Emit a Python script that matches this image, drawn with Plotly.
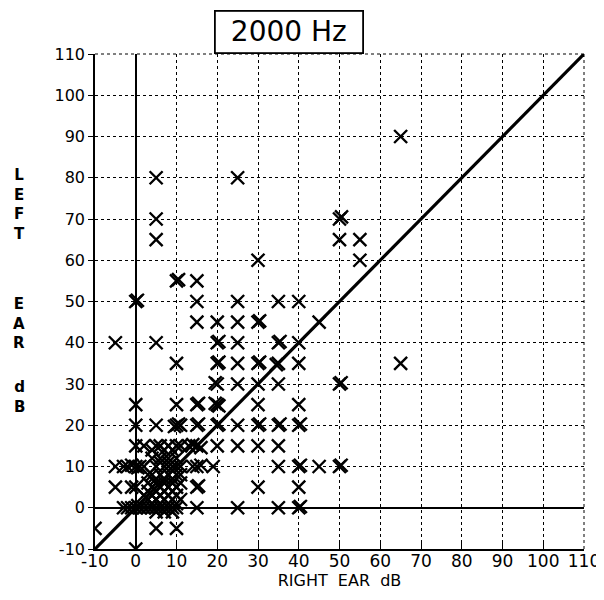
import plotly.graph_objects as go

# Tick values / labels
tick_vals = [-10, 0, 10, 20, 30, 40, 50, 60, 70, 80, 90, 100, 110]
tick_text = [str(v) for v in tick_vals]

# Data: right ear dB (x) vs left ear dB (y)
right_ear = [
    65, 25, 5, 5, 5, 50, 50.5, 50, 55, 55, 30,
    10, 10.5, 15, 0, 0.4, 15, 25, 35, 40,
    15, 20, 25, 30, 30.4, 45,
    -5, 5, 20, 20.4, 25, 35, 35.4, 40,
    10, 20, 20.4, 25, 30, 30.4, 35, 34.5, 40, 65,
    20, 19.5, 25, 30, 35, 50, 50.4,
    0, 10, 15, 15.4, 20, 19.5, 20.4, 30, 40,
    0, 5, 10, 10.5, 9.5, 11, 15, 15.4, 20, 20.4, 25, 30, 30.4, 35, 35.4, 40, 40.4,
    0, 2, 4, 5, 6, 7, 8, 9, 10, 11, 13, 14, 15, 16, 20, 25, 30, 35,
    4, 6, 8, 10,
    -5, -3, -2, -1, 0, 0.5, 1, 2, 5, 7, 8, 9, 10, 11, 14, 15, 16, 19, 35, 40, 40.4, 45, 50, 50.4,
    -5, -1, 0, 15, 15.4, 30, 40,
    3, 4, 5, 6, 7, 8, 9, 10, 11,
    3, 4, 5, 6, 7, 8, 9, 10, 11,
    2, 3, 4, 5, 6, 7, 8, 9, 10,
    3, 4, 5, 6, 7, 8, 9, 10, 11,
    -3, -2, -1, 0, 0.5, 1, 2, 3, 4, 5, 6, 7, 8, 9, 10,
    5, 7, 9, 6, 8,
    15, 25, 35, 40, 40.4,
    -10, 5, 10, 0,
]
left_ear = [
    90, 80, 80, 70, 65, 70, 70.5, 65, 65, 60, 60,
    55, 55.3, 55, 50, 50.3, 50, 50, 50, 50,
    45, 45, 45, 45, 45.3, 45,
    40, 40, 40, 40.3, 40, 40, 40.3, 40,
    35, 35, 35.3, 35, 35, 35.3, 35, 34.7, 35, 35,
    30, 30.3, 30, 30, 30, 30, 30.3,
    25, 25, 25, 25.3, 25, 25.3, 24.7, 25, 25,
    20, 20, 20, 20.3, 19.7, 20, 20, 20.3, 20, 20.3, 20, 20, 20.3, 20, 20.3, 20, 20.3,
    15, 15, 14, 15, 15, 14, 15, 14, 15, 15, 15, 15.3, 15, 14.6, 15, 15, 15, 15,
    12, 12, 12, 12,
    10, 10, 10, 10.3, 10, 9.7, 10, 10, 10, 10, 10, 10, 10, 10, 10, 10, 10.3, 10, 10, 10, 10.3, 10, 10, 10.3,
    5, 5, 5, 5, 5.3, 5, 5,
    8, 8, 7, 8, 7, 8, 7, 8, 8,
    6, 5, 6, 5, 6, 5, 6, 5, 6,
    3, 4, 3, 4, 3, 4, 3, 4, 3,
    2, 1, 2, 1, 2, 1, 2, 1, 2,
    0, 0, 0, 0, 0.5, 0, 0, 0, 0, 0, 0, 0, 0, 0, 0,
    -1, -1, -1, 11, 11,
    0, 0, 0, 0, 0.3,
    -5, -5, -5, -10,
]

diag = [-10, 110]

fig = go.Figure()
fig.add_trace(go.Scatter(
    x=diag, y=diag, mode="lines",
    line=dict(color="black", width=3.2),
    hoverinfo="skip", showlegend=False,
))
fig.add_trace(go.Scatter(
    x=right_ear, y=left_ear, mode="markers",
    marker=dict(symbol="x-thin", size=13, color="black",
                line=dict(color="black", width=2.4)),
    showlegend=False,
))

axis_common = dict(
    range=[-10, 110],
    tickvals=tick_vals,
    ticktext=tick_text,
    showgrid=True,
    gridcolor="black",
    gridwidth=1,
    griddash="dot",
    zeroline=True,
    zerolinecolor="black",
    zerolinewidth=1.6,
    showline=True,
    linecolor="black",
    linewidth=1.6,
    mirror=False,
    tickcolor="black",
    fixedrange=True,
)

fig.update_layout(
    width=604, height=600,
    margin=dict(l=87, r=21, t=46, b=59),
    paper_bgcolor="white",
    plot_bgcolor="white",
    xaxis=dict(**axis_common, ticks="inside", ticklen=6, ticklabelstandoff=-4,
               tickfont=dict(family="DejaVu Sans", size=17, color="black"),
               title=dict(text="RIGHT  EAR  dB", standoff=0,
                          font=dict(family="DejaVu Sans", size=16, color="black"))),
    yaxis=dict(**axis_common, ticks="outside", ticklen=5,
               tickfont=dict(family="DejaVu Sans", size=16, color="black")),
)

# Dotted top/right frame
fig.add_shape(type="line", xref="paper", yref="paper", x0=0, x1=1, y0=1, y1=1,
              line=dict(color="black", width=1, dash="dot"))
fig.add_shape(type="line", xref="paper", yref="paper", x0=1, x1=1, y0=0, y1=1,
              line=dict(color="black", width=1, dash="dot"))

# Title box
fig.add_annotation(
    text="2000 Hz", xref="paper", yref="paper", x=0.396, y=1,
    xanchor="center", yanchor="bottom", showarrow=False,
    font=dict(family="DejaVu Sans", size=28, color="black"),
    bordercolor="black", borderwidth=1.8, borderpad=2,
    bgcolor="white", width=142, height=36,
)

# Vertical stacked y-axis label
for txt, yc in [("L<br>E<br>F<br>T", 197), ("E<br>A<br>R", 315), ("d<br>B", 389)]:
    fig.add_annotation(
        text=txt, xref="paper", yref="paper",
        x=0, y=1 - (yc - 46) / 495, xshift=-76,
        xanchor="center", yanchor="middle", showarrow=False,
        font=dict(family="DejaVu Sans", size=15, color="black", weight="bold"),
    )

fig.write_html("out.html")
